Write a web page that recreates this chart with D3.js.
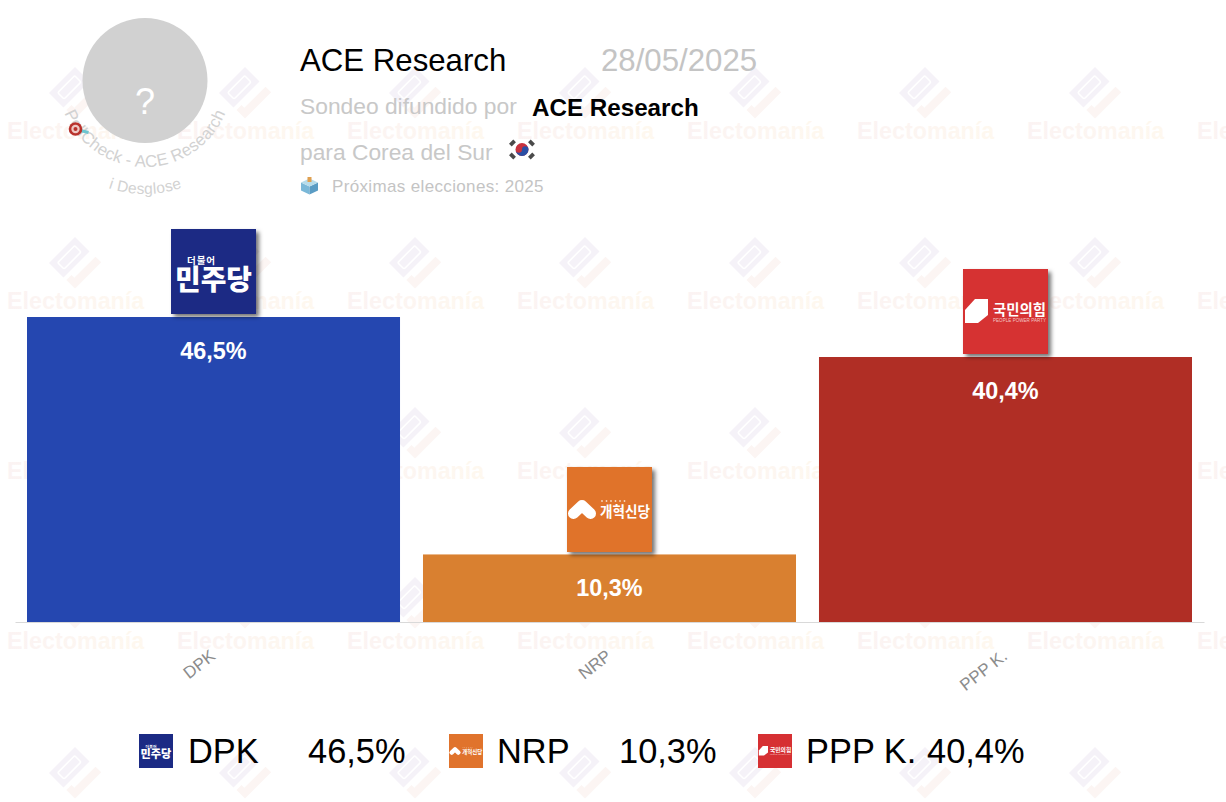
<!DOCTYPE html>
<html>
<head>
<meta charset="utf-8">
<script src="https://cdn.jsdelivr.net/npm/d3@7"></script>
<style>
  html, body { margin: 0; padding: 0; background: #fff; }
  svg { display: block; font-family: "Liberation Sans", Arial, sans-serif; }
</style>
</head>
<body>
<svg width="1226" height="802"></svg>
<script>
const parties = ["DPK", "NRP", "PPP K."];
const values = [46.5, 10.3, 40.4];
const valueLabels = ["46,5%", "10,3%", "40,4%"];
const barColors = ["#2547b0", "#d98030", "#b02e25"];
const logoColors = ["#1b2a84", "#e0732c", "#d63033"];

const w = 1226, h = 802;
const svg = d3.select("svg");
const defs = svg.append("defs");

const wmGrad = defs.append("linearGradient").attr("id", "wmText");
wmGrad.append("stop").attr("offset", "0%").attr("stop-color", "#fbf3f3");
wmGrad.append("stop").attr("offset", "100%").attr("stop-color", "#fef8ef");

// watermark
const wm = svg.append("g").attr("class", "watermark");
d3.range(0, 8).forEach(i => {
  d3.range(0, 5).forEach(j => {
    let m = wm.append("g").attr("transform", `translate(${75 + i * 170},${93 + j * 170}) rotate(-45)`);
    m.append("rect").attr("x", -18.4).attr("y", -18.4).attr("width", 36.8).attr("height", 20.5).attr("fill", "#f5f2f8");
    m.append("rect").attr("x", -12).attr("y", -12.5).attr("width", 24).attr("height", 9).attr("rx", 1.5)
      .attr("fill", "none").attr("stroke", "#fff").attr("stroke-width", 1.6);
    m.append("path").attr("fill", "#fcf5f3").attr("d", "M-18,6H-11V10H19V18H-18Z");
  });
});
d3.range(0, 8).forEach(i => {
  d3.range(0, 4).forEach(j => {
    wm.append("text")
      .text("Electomanía")
      .attr("x", 7 + i * 170)
      .attr("y", 139 + j * 170)
      .attr("font-size", 23.3)
      .attr("font-weight", "bold")
      .attr("fill", "url(#wmText)");
  });
});

// header
svg.append("circle").attr("cx", 145).attr("cy", 80.5).attr("r", 62.5).attr("fill", "#d1d1d1");
svg.append("text").text("?").attr("x", 145).attr("y", 114)
  .attr("text-anchor", "middle").attr("font-size", 36).attr("fill", "#fff");

defs.append("path").attr("id", "arc1").attr("d", "M58,80 A87,87 0 0 0 232,80");
defs.append("path").attr("id", "arc2").attr("d", "M31,80 A114,114 0 0 0 259,80");

svg.append("text").attr("font-size", 16.8).attr("letter-spacing", 0.2).attr("fill", "#d2d2d2")
  .append("textPath").attr("href", "#arc1").attr("startOffset", "50%").attr("text-anchor", "middle")
  .text("PollCheck - ACE Research");
svg.append("text").attr("font-size", 15.5).attr("letter-spacing", 0.3).attr("fill", "#d2d2d2")
  .append("textPath").attr("href", "#arc2").attr("startOffset", "50%").attr("text-anchor", "middle")
  .text("ℹ Desglose");

// small target icon
let target = svg.append("g").attr("transform", "translate(75.5,129)");
target.append("line").attr("x1", 3).attr("y1", 1).attr("x2", 13).attr("y2", 3.5).attr("stroke", "#6cc5d0").attr("stroke-width", 3);
target.append("circle").attr("r", 6.8).attr("fill", "#b8322c");
target.append("circle").attr("r", 4.2).attr("fill", "#eec9c4");
target.append("circle").attr("r", 2).attr("fill", "#b8322c");

svg.append("text").text("ACE Research").attr("x", 300).attr("y", 71).attr("font-size", 31.2).attr("fill", "#000");
svg.append("text").text("28/05/2025").attr("x", 601).attr("y", 71).attr("font-size", 31.2).attr("fill", "#c4c4c4");
svg.append("text").text("Sondeo difundido por").attr("x", 300).attr("y", 114).attr("font-size", 22.8).attr("fill", "#c8c8c8");
svg.append("text").text("ACE Research").attr("x", 532).attr("y", 116).attr("font-size", 24.2).attr("font-weight", "bold").attr("fill", "#000");
svg.append("text").text("para Corea del Sur").attr("x", 300).attr("y", 160).attr("font-size", 22.8).attr("fill", "#c8c8c8");
svg.append("text").text("Próximas elecciones: 2025").attr("x", 332).attr("y", 192).attr("font-size", 17).attr("letter-spacing", 0.35).attr("fill", "#c4c4c4");

// korean flag
let flag = svg.append("g").attr("transform", "translate(522,149.5)");
flag.append("circle").attr("r", 6.5).attr("fill", "#c8313e");
flag.append("path").attr("d", "M-6.5,0 A3.25,3.25 0 0 0 0,0 A3.25,3.25 0 0 1 6.5,0 A6.5,6.5 0 0 1 -6.5,0Z").attr("fill", "#2a4fa5");
[[-9.5, -6.5], [9.5, -6.5], [-9.5, 6.5], [9.5, 6.5]].forEach(p => {
  flag.append("rect").attr("x", -3).attr("y", -1.9).attr("width", 6).attr("height", 3.8)
    .attr("fill", "#4a4a4a")
    .attr("transform", `translate(${p[0]},${p[1]}) rotate(${p[0] * p[1] > 0 ? -45 : 45})`);
});

// ballot box
let box = svg.append("g").attr("transform", "translate(300,176.5)");
box.append("path").attr("d", "M1,6 L9.5,10 L9.5,18 L1,14Z").attr("fill", "#7ab8d8");
box.append("path").attr("d", "M18,6 L9.5,10 L9.5,18 L18,14Z").attr("fill", "#5a9cc4");
box.append("path").attr("d", "M1,6 L9.5,2 L18,6 L9.5,10Z").attr("fill", "#b7dcea");
box.append("rect").attr("x", 7.5).attr("y", 0.5).attr("width", 4).attr("height", 5).attr("fill", "#e0a050");

// scales
let yScale = d3.scaleLinear().domain([0, 46.5]).range([622, 317]);
let xScale = d3.scaleBand().domain(parties).range([15, 1204]).paddingInner(0.058).paddingOuter(0.0303);

// axis
let xAxis = d3.axisBottom(xScale).tickSize(0).tickPadding(0);
let axisG = svg.append("g").attr("transform", `translate(0,${yScale(0)})`).call(xAxis);
axisG.select(".domain").attr("stroke", "#d9d9d9").attr("stroke-width", 1);
axisG.selectAll("text")
  .attr("font-family", "Liberation Sans")
  .attr("font-size", 17)
  .attr("fill", "#8c8c8c")
  .attr("text-anchor", "end")
  .attr("dy", 0)
  .attr("y", 0)
  .attr("transform", "translate(3,36) rotate(-38)");

// bars
svg.append("g").selectAll("rect")
  .data(parties)
  .enter()
  .append("rect")
  .attr("x", d => xScale(d))
  .attr("y", (d, i) => yScale(values[i]))
  .attr("width", xScale.bandwidth())
  .attr("height", (d, i) => yScale(0) - yScale(values[i]))
  .attr("fill", (d, i) => barColors[i]);

svg.append("g").selectAll("text")
  .data(parties)
  .enter()
  .append("text")
  .text((d, i) => valueLabels[i])
  .attr("x", d => xScale(d) + xScale.bandwidth() / 2)
  .attr("y", (d, i) => yScale(values[i]) + 42)
  .attr("text-anchor", "middle")
  .attr("font-size", 23.4)
  .attr("font-weight", "bold")
  .attr("fill", "#fff");

// party logos, s = side of the square
const shadow = defs.append("filter").attr("id", "shadow").attr("x", "-20%").attr("y", "-20%").attr("width", "150%").attr("height", "150%");
shadow.append("feDropShadow").attr("dx", 3).attr("dy", 3).attr("stdDeviation", 2).attr("flood-color", "#000").attr("flood-opacity", 0.55);

function drawLogo(g, i, s, withShadow) {
  let k = s / 85;
  let rect = g.append("rect").attr("width", s).attr("height", s).attr("fill", logoColors[i]);
  if (withShadow) rect.attr("filter", "url(#shadow)");
  let inner = g.append("g").attr("transform", `scale(${k})`);
  let kr = "'Noto Sans CJK KR'";
  if (i == 0) {
    inner.append("text").text("더불어").attr("x", 16).attr("y", 35).attr("font-size", 9.5).attr("textLength", 28).attr("font-family", kr).attr("font-weight", "bold").attr("fill", "#fff");
    inner.append("text").text("민주당").attr("x", 42.5).attr("y", 61).attr("text-anchor", "middle").attr("textLength", 77).attr("lengthAdjust", "spacingAndGlyphs").attr("font-size", 28).attr("font-family", kr).attr("font-weight", "900").attr("fill", "#fff");
  } else if (i == 1) {
    inner.append("path").attr("d", "M6.5,46.5 L15,38.5 L23.5,46.5").attr("fill", "none").attr("stroke", "#fff").attr("stroke-width", 11).attr("stroke-linecap", "round").attr("stroke-linejoin", "round");
    d3.range(0, 6).forEach(n => {
      inner.append("circle").attr("cx", 35 + n * 4.5).attr("cy", 34).attr("r", 0.9).attr("fill", "#f6d9c4");
    });
    inner.append("text").text("개혁신당").attr("x", 33).attr("y", 50).attr("font-size", 15).attr("textLength", 50).attr("lengthAdjust", "spacingAndGlyphs").attr("font-family", kr).attr("font-weight", "bold").attr("fill", "#fff");
  } else {
    inner.append("path").attr("d", "M2,41 L12,30 H25 V46 L15,54 H2Z").attr("fill", "#fff");
    inner.append("text").text("국민의힘").attr("x", 30).attr("y", 46).attr("font-size", 15).attr("textLength", 53).attr("lengthAdjust", "spacingAndGlyphs").attr("font-family", kr).attr("font-weight", "bold").attr("fill", "#fff");
    inner.append("text").text("PEOPLE POWER PARTY").attr("x", 30).attr("y", 53).attr("font-size", 4.5).attr("textLength", 53).attr("fill", "#f3c6c6");
  }
}

parties.forEach((d, i) => {
  let x = xScale(d) + xScale.bandwidth() / 2 - 42.5;
  let g = svg.append("g").attr("transform", `translate(${x},${Math.floor(yScale(values[i]) - 88) + (i == 1 ? 1 : 0)})`);
  drawLogo(g, i, 85, true);
});

// legend
const legendIconX = [139, 449, 758];
const legendNameX = [188, 497, 806];
const legendValueX = [308, 619, 927];
parties.forEach((d, i) => {
  let g = svg.append("g").attr("transform", `translate(${legendIconX[i]},734)`);
  drawLogo(g, i, 34, false);
  svg.append("text").text(d).attr("x", legendNameX[i]).attr("y", 763).attr("font-size", 34.4).attr("fill", "#000");
  svg.append("text").text(valueLabels[i]).attr("x", legendValueX[i]).attr("y", 763).attr("font-size", 34.4).attr("fill", "#000");
});
</script>
</body>
</html>
